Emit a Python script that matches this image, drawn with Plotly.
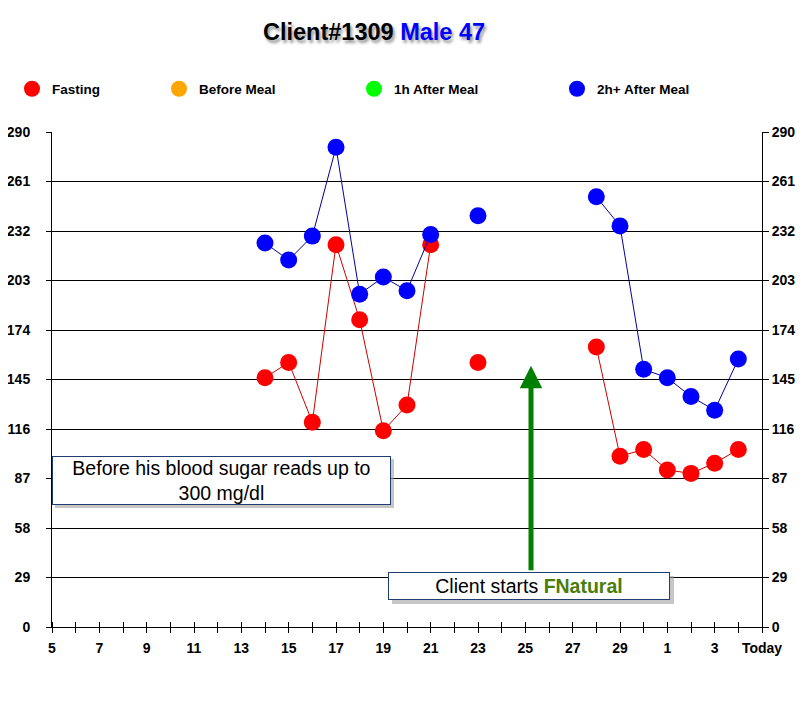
import plotly.graph_objects as go

# ── Data ────────────────────────────────────────────
days = [str(d) for d in range(5, 31)] + ["1", "2", "3", "4", "Today"]

fasting = [None] * 9 + [146, 155, 120, 224, 180, 115, 130, 224, None, 155,
                        None, None, None, None, 164, 100, 104, 92, 90, 96, 104, None]
after_2h = [None] * 9 + [225, 215, 229, 281, 195, 205, 197, 230, None, 241,
                         None, None, None, None, 252, 235, 151, 146, 135, 127, 157, None]

y_ticks = list(range(0, 291, 29))
x_idx = list(range(len(days)))
x_text = [d if i % 2 == 0 else "" for i, d in enumerate(days)]

# ── Geometry (page body has an 8px margin) ──────────
OFF = 8
W, H = 790, 709
L, T = 52 - OFF, 132 - OFF
R = W - (762 - OFF)
B = H - (627 - OFF)
PW, PH = W - L - R, H - T - B


def px(x):
    # reference pixel -> paper coordinate
    return (x - OFF - L) / PW


def py(y):
    return (H - B - (y - OFF)) / PH


TICK_FONT = dict(family="Liberation Sans, Arial", size=14, color="black", weight="bold")

fig = go.Figure()

# data traces
fig.add_trace(go.Scatter(
    x=x_idx, y=fasting, mode="lines+markers", showlegend=False,
    line=dict(color="#cc0000", width=1),
    marker=dict(color="#ff0000", size=17), connectgaps=False,
))
fig.add_trace(go.Scatter(
    x=x_idx, y=after_2h, mode="lines+markers", showlegend=False,
    line=dict(color="#000099", width=1),
    marker=dict(color="#0000ff", size=17), connectgaps=False,
))

# legend entries (each in its own legend box)
legend_items = [
    ("Fasting", "#ff0000", "legend", 33),
    ("Before Meal", "#ffa500", "legend2", 180),
    ("1h After Meal", "#00ff00", "legend3", 375),
    ("2h+ After Meal", "#0000ff", "legend4", 578),
]
legend_layout = {}
for name, col, lg, cx in legend_items:
    fig.add_trace(go.Scatter(
        x=[None], y=[None], mode="markers", name=name, legend=lg,
        marker=dict(color=col, size=16),
    ))
    legend_layout[lg] = dict(
        x=px(cx - 21), y=py(89), xanchor="left", yanchor="middle",
        bgcolor="rgba(0,0,0,0)", borderwidth=0,
        font=dict(family="Liberation Sans, Arial", size=13.5, color="black", weight="bold"),
    )

# ── Annotations ─────────────────────────────────────
annotations = [
    dict(xref="paper", yref="paper", x=px(374), y=py(32), showarrow=False,
         text="<b>Client#1309 <span style='color:#0000ff'>Male 47</span></b>",
         font=dict(family="Liberation Sans, Arial", size=23.5, color="black",
                   shadow="2px 3px 3px #999"),
         xanchor="center", yanchor="middle"),
    # green arrow
    dict(xref="x", yref="y", x=20.24, y=153, ax=0, ay=206, text="",
         showarrow=True, arrowhead=2, arrowsize=0.9, arrowwidth=5,
         arrowcolor="#008000", standoff=0),
    dict(xref="paper", yref="paper", x=px(221), y=py(480), showarrow=False,
         text="Before his blood sugar reads up to<br>300 mg/dl",
         font=dict(family="Liberation Sans, Arial", size=19.5, color="black"),
         bgcolor="white", bordercolor="#1f3d73", borderwidth=1, borderpad=0,
         width=337, height=47, xanchor="center", yanchor="middle"),
    dict(xref="paper", yref="paper", x=px(529), y=py(586), showarrow=False,
         text="Client starts <b><span style='color:#4a7d0a'>FNatural</span></b>",
         font=dict(family="Liberation Sans, Arial", size=19.5, color="black"),
         bgcolor="white", bordercolor="#1f3d73", borderwidth=1, borderpad=0,
         width=280, height=26, xanchor="center", yanchor="middle"),
]

# box shadows
shapes = []
for (x0, y0, x1, y1) in [(51, 455, 390, 504), (388, 572, 670, 600)]:
    shapes.append(dict(type="rect", xref="paper", yref="paper",
                       x0=px(x0 + 4), x1=px(x1 + 4), y0=py(y0 + 4), y1=py(y1 + 4),
                       fillcolor="#a0a0a0", opacity=0.6, line=dict(width=0), layer="above"))

fig.update_layout(
    width=W, height=H,
    margin=dict(l=L, r=R, t=T, b=B, autoexpand=False),
    paper_bgcolor="white", plot_bgcolor="white",
    showlegend=True,
    annotations=annotations,
    shapes=shapes,
    hovermode=False,
    xaxis=dict(
        range=[0, len(days) - 1], tickvals=x_idx, ticktext=x_text, automargin=False,
        showgrid=False, zeroline=False, showline=True, linecolor="black", linewidth=1,
        ticks="outside", ticklen=5, tickcolor="black", tickfont=TICK_FONT,
        ticklabelstandoff=3,
    ),
    # upward half of the cross-shaped x ticks
    xaxis2=dict(
        range=[0, len(days) - 1], tickvals=x_idx, overlaying="x", anchor="free",
        position=0, side="top", showticklabels=False, showgrid=False, zeroline=False,
        showline=False, ticks="outside", ticklen=5, tickcolor="black", automargin=False,
    ),
    yaxis=dict(
        range=[0, 290], tickvals=y_ticks, showgrid=True, gridcolor="black", gridwidth=1,
        zeroline=False, showline=True, linecolor="black", linewidth=1, automargin=False,
        ticks="outside", ticklen=5, tickcolor="black", tickfont=TICK_FONT,
        ticklabelstandoff=13,
    ),
    yaxis2=dict(
        range=[0, 290], tickvals=y_ticks, overlaying="y", side="right", anchor="x",
        showgrid=False, zeroline=False, showline=True, linecolor="black", linewidth=1,
        ticks="outside", ticklen=6, tickcolor="black", tickfont=TICK_FONT, automargin=False,
    ),
    **legend_layout,
)

# invisible traces so the overlay axes get drawn
fig.add_trace(go.Scatter(x=[None], y=[None], xaxis="x2", yaxis="y",
                         showlegend=False, mode="markers"))
fig.add_trace(go.Scatter(x=[None], y=[None], xaxis="x", yaxis="y2",
                         showlegend=False, mode="markers"))

fig.write_html("out.html")
